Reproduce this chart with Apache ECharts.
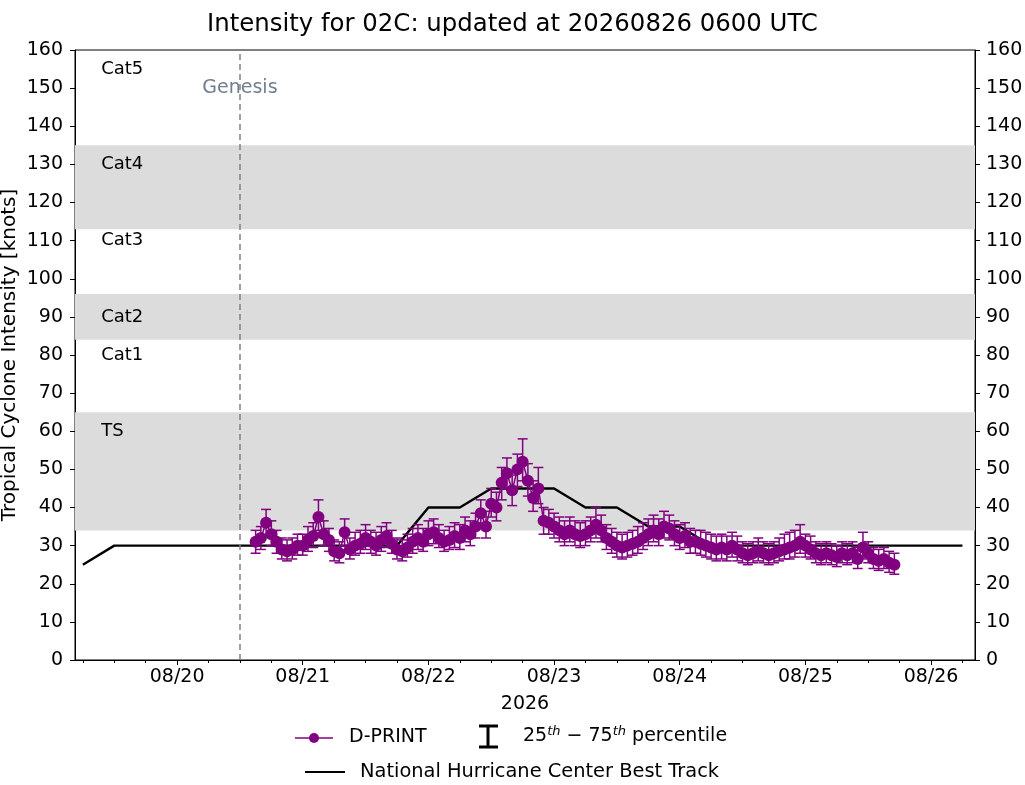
<!DOCTYPE html>
<html><head><meta charset="utf-8">
<script src="https://cdn.jsdelivr.net/npm/echarts@6/dist/echarts.min.js"></script>
<style>html,body{margin:0;padding:0;background:#fff}#c{width:1025px;height:785px}</style>
</head><body><div id="c"></div>
<script>
// ---- data ----
const dprintStart = Date.UTC(2026, 7, 20, 15); // hourly D-PRINT estimates
const dprintStepHours = 1;
const dprintValues = [31,32,36,33,31,29,28.5,29,30,
30,31.5,32.5,37.5,33,31.5,28.5,28,33.5,29,30,30.5,32,31,30,31.5,32.5,30.5,29,28.5,29.5,31,32,31,
33,33.5,32,31,31.5,32.5,32,34,33,35,38.5,35,41,40,46.5,49,44.5,50,52,47,42.5,45,36.5,36,
35,34,33,34,33,32.5,33,34,35.5,34,32,31,30,29.5,30,30.5,31,32,33,34,33,35,34.5,33,
32,32.5,31,31,30.5,30,29.5,29,29.5,29,30,29,28,27.5,28,28.5,28,27.5,28,28.5,29,29.5,30,31,
30,29,28,27.5,28,27.5,27,28,27.5,28,26.5,29.5,28,26.5,26,26.5,25.5,25];
const dprintP25 = [28,29,32.5,30,28,26.5,26,26.5,27.5,
27.5,28.5,29.5,34,30,28.5,26,25.5,30,26.5,27.5,28,29,28,27.5,28.5,29.5,28,26.5,26,27,28,29,28.5,
30,30.5,29.5,28.5,29,29.5,29,31,30,32,35,32,37.5,36.5,42,45,40.5,45.5,47,43,39,41,33,33,
32,31,30,31,30,29.5,30,31,32,31,29,28,27,26.5,27,27.5,28,29,30,31,30,32,31.5,30,
29,29.5,28,28,27.5,27,26.5,26,26.5,26,27,26,25.5,25,25.5,26,25.5,25,25.5,26,26.5,26.5,27,28,
27,26.5,25.5,25,25.5,25,24.5,25.5,25,25.5,24,26.5,25.5,24,23.5,24,23,22.5];
const dprintP75 = [34,35,39.5,36.5,34,32,31.5,32,33,
33,35,36,42,36.5,34.5,31.5,31,37,32,33.5,34,35.5,34,33.5,35,36,34,32,31.5,33,34.5,35.5,34.5,
36.5,37,35.5,34,35,36,35.5,37.5,36.5,38.5,42,39,45,44,50.5,53,48.5,54,58,51.5,47,50.5,40,39.5,
38.5,37.5,36.5,37.5,36.5,36,36.5,37.5,40,38,35.5,34.5,33.5,33,33.5,34,35,36,37,38,37,39,38,36.5,
35.5,36,34.5,34,34,33.5,33,32.5,33,32.5,33.5,32.5,31,30.5,31,32,31,30.5,31,32,33,33.5,34,35.5,
33,32.5,31,30.5,31,30.5,30,31,30.5,31,29.5,33.5,31,29.5,29,29.5,28.5,28];

const bestStart = Date.UTC(2026, 7, 19, 6); // 6-hourly best track
const bestStepHours = 6;
const bestValues = [25,30,30, 30,30,30,30, 30,30,30,30, 40,40,45,45, 45,40,40,35, 35,30,30,30, 30,30,30,30, 30,30];

const genesisTime = Date.UTC(2026, 7, 20, 12);
const xTickDays = [20,21,22,23,24,25,26];
const yTicks = [0,10,20,30,40,50,60,70,80,90,100,110,120,130,140,150,160];
const bandRanges = [[34,65],[84,96],[113,135]];
const catLabels = ['Cat5','Cat4','Cat3','Cat2','Cat1','TS'];
const catLevels = [155,130,110,90,80,60];
const xMin = Date.UTC(2026, 7, 19, 4, 30);
const xMax = Date.UTC(2026, 7, 26, 8, 24);
const catLabelTime = Date.UTC(2026, 7, 19, 9, 30);

// ---- build ----
const H = 3600000;
const dprint = dprintValues.map((v,i)=>[dprintStart + i*dprintStepHours*H, v]);
const errs = dprintValues.map((v,i)=>[dprintStart + i*dprintStepHours*H, dprintP25[i], dprintP75[i]]);
const best = bestValues.map((v,i)=>[bestStart + i*bestStepHours*H, v]);
const xTicks = xTickDays.map(d=>Date.UTC(2026,7,d));
const minorTicks = [];
for (let t = Date.UTC(2026,7,19,6); t <= xMax; t += 6*H) minorTicks.push(t);
const pad = n => (n<10?'0':'')+n;
const fmt = v => { const d=new Date(v); return pad(d.getUTCMonth()+1)+'/'+pad(d.getUTCDate()); };
const FONT = 'DejaVu Sans';
const FS = 19;
const PURPLE = '#800080';

const chart = echarts.init(document.getElementById('c'));
const yAxisBase = {
  type:'value', min:0, max:160, interval:10,
  axisLine:{show:true, lineStyle:{color:'#000', width:1}},
  axisTick:{show:true, length:5, lineStyle:{color:'#000'}},
  axisLabel:{color:'#000', fontSize:FS, fontFamily:FONT, margin:12},
  splitLine:{show:false}
};
chart.setOption({
  animation:false,
  backgroundColor:'#fff',
  title:{text:'Intensity for 02C: updated at 20260826 0600 UTC', left:'center', top:8,
    textStyle:{fontSize:24.4, fontWeight:'normal', color:'#000', fontFamily:FONT}},
  grid:{left:75, right:50, top:50, bottom:125, show:true, borderColor:'#000', borderWidth:1,
    backgroundColor:'transparent', containLabel:false, outerBoundsMode:'none'},
  xAxis:[{type:'value', min:xMin, max:xMax,
    name:'2026', nameLocation:'middle', nameGap:35, nameMoveOverlap:false,
    nameTextStyle:{color:'#000', fontSize:FS, fontFamily:FONT},
    axisLine:{show:true, onZero:false, lineStyle:{color:'#000'}},
    axisTick:{show:true, length:5, customValues:xTicks, lineStyle:{color:'#000'}},
    axisLabel:{color:'#000', fontSize:FS, fontFamily:FONT, margin:8, customValues:xTicks, formatter:fmt},
    splitLine:{show:false}},
   {type:'value', min:xMin, max:xMax, position:'bottom',
    axisLine:{show:false, onZero:false},
    axisTick:{show:true, length:3, customValues:minorTicks, lineStyle:{color:'#000'}},
    axisLabel:{show:false}, splitLine:{show:false}}],
  yAxis:[
    Object.assign({}, yAxisBase, {position:'left', name:'Tropical Cyclone Intensity [knots]', nameLocation:'middle', nameGap:55,
      nameMoveOverlap:false,
      nameTextStyle:{color:'#000', fontSize:20, fontFamily:FONT}}),
    Object.assign({}, yAxisBase, {position:'right', axisLabel:Object.assign({}, yAxisBase.axisLabel, {margin:11})})
  ],
  series:[
    {name:'National Hurricane Center Best Track', type:'line', data:best, symbol:'none', z:2,
      lineStyle:{color:'#000', width:2.4},
      markArea:{silent:true, itemStyle:{color:'#dcdcdc'},
        data:bandRanges.map(r=>[{yAxis:r[0]},{yAxis:r[1]}])},
      markLine:{silent:true, symbol:'none', label:{show:false},
        lineStyle:{color:'#808080', type:[6,4], width:1.5},
        data:[{xAxis:genesisTime}]}},
    {name:'labels', type:'scatter', symbolSize:0, silent:true, z:1, itemStyle:{opacity:1},
      data:catLabels.map((t,i)=>[catLabelTime, catLevels[i], t]),
      label:{show:true, position:'right', distance:0, formatter:p=>p.data[2], color:'#000', opacity:1, fontSize:18, fontFamily:FONT}},
    {name:'genesis', type:'scatter', symbolSize:0, silent:true, z:1, itemStyle:{opacity:1},
      data:[[genesisTime, 150, 'Genesis']],
      label:{show:true, position:'inside', formatter:p=>p.data[2], color:'#708090', opacity:1, fontSize:19, fontFamily:FONT}},
    {name:'errs', type:'custom', z:3, data:errs,
      renderItem:(params, api)=>{
        const x=api.value(0), lo=api.value(1), hi=api.value(2);
        const a=api.coord([x,lo]), b=api.coord([x,hi]);
        const st={stroke:PURPLE, lineWidth:1.5};
        return {type:'group', children:[
          {type:'line', shape:{x1:a[0],y1:a[1],x2:b[0],y2:b[1]}, style:st},
          {type:'line', shape:{x1:a[0]-5,y1:a[1],x2:a[0]+5,y2:a[1]}, style:st},
          {type:'line', shape:{x1:b[0]-5,y1:b[1],x2:b[0]+5,y2:b[1]}, style:st}
        ]};
      }},
    {name:'D-PRINT', type:'line', data:dprint, z:4, symbol:'circle', symbolSize:12, showAllSymbol:true,
      lineStyle:{color:PURPLE, width:1.5}, itemStyle:{color:PURPLE}}
  ],
  graphic:[
    {type:'line', shape:{x1:295,y1:738,x2:333,y2:738}, style:{stroke:PURPLE, lineWidth:1.5}},
    {type:'circle', shape:{cx:314,cy:738,r:5}, style:{fill:PURPLE}},
    {type:'text', left:349, top:728, style:{text:'D-PRINT', fontSize:FS, fontFamily:FONT, fill:'#000'}},
    {type:'line', shape:{x1:488,y1:726,x2:488,y2:747}, style:{stroke:'#000', lineWidth:3}},
    {type:'line', shape:{x1:479,y1:726,x2:498,y2:726}, style:{stroke:'#000', lineWidth:3}},
    {type:'line', shape:{x1:479,y1:747,x2:498,y2:747}, style:{stroke:'#000', lineWidth:3}},
    {type:'text', left:523, top:725, style:{text:'25{s|th} − 75{s|th} percentile', fontSize:FS, fontFamily:FONT, fill:'#000',
      rich:{s:{fontSize:13, fontStyle:'italic', fontFamily:FONT, verticalAlign:'top', padding:[0,0,10,0]}}}},
    {type:'line', shape:{x1:305,y1:772,x2:345,y2:772}, style:{stroke:'#000', lineWidth:2}},
    {type:'text', left:360, top:762, style:{text:'National Hurricane Center Best Track', fontSize:19.4, fontFamily:FONT, fill:'#000'}}
  ]
});
</script></body></html>
